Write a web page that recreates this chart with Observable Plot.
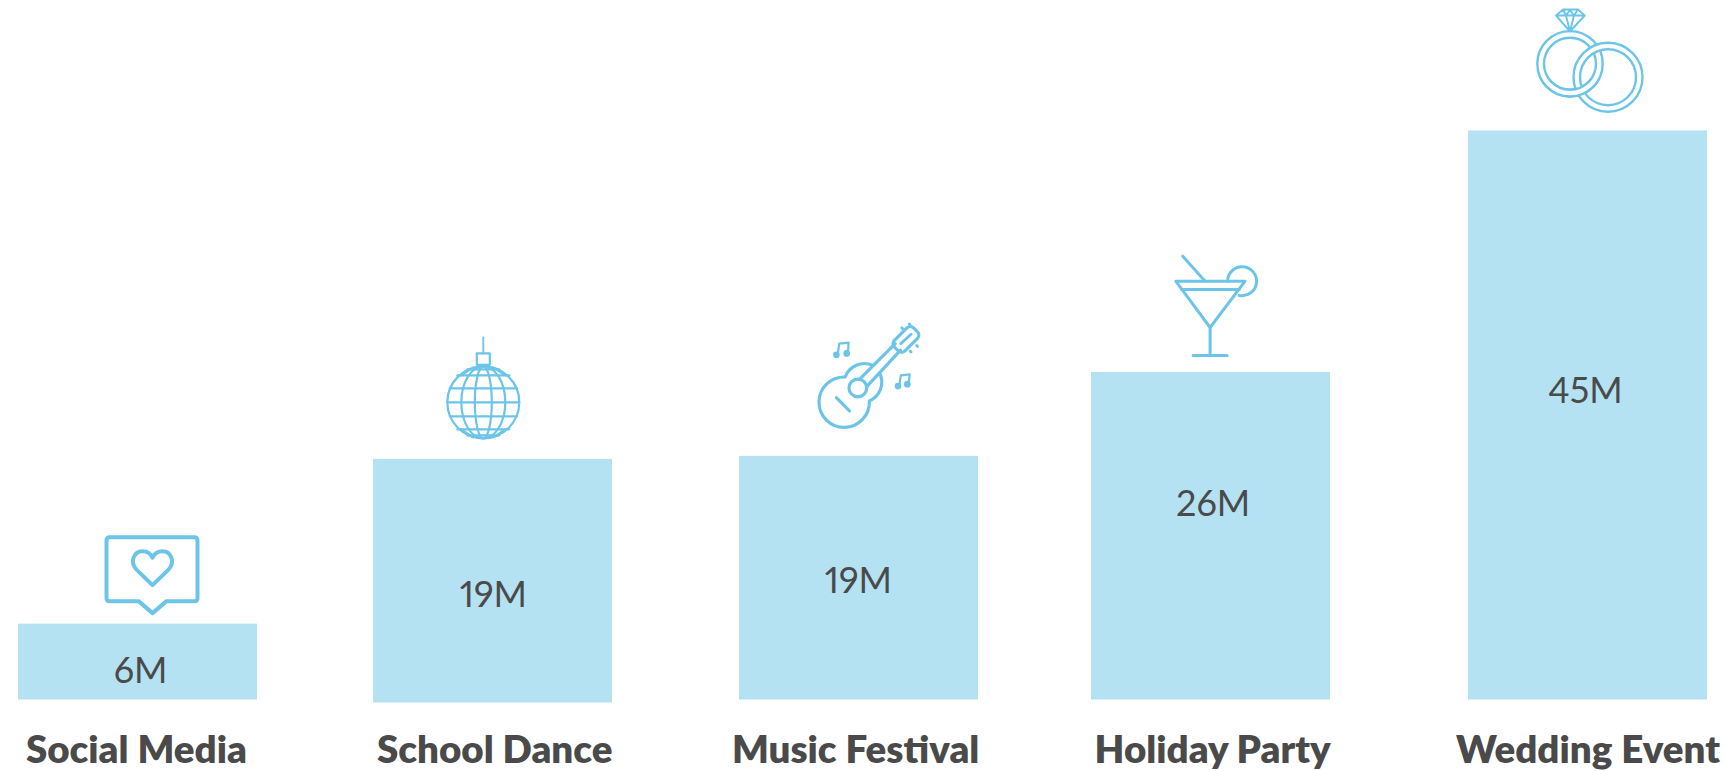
<!DOCTYPE html>
<html><head><meta charset="utf-8">
<style>html,body{margin:0;padding:0;background:#fff;overflow:hidden}svg{display:block}</style>
<script src="https://cdn.jsdelivr.net/npm/d3@7"></script>
<script src="https://cdn.jsdelivr.net/npm/@observablehq/plot@0.6"></script>
</head><body><div id="chart"></div>
<script>
// Data
const categories = ["Social Media", "School Dance", "Music Festival", "Holiday Party", "Wedding Event"];
const values = [6, 19.27, 19.27, 25.9, 45];
const valueLabels = ["6M", "19M", "19M", "26M", "45M"];

// Hand layout of the infographic (pixel nudges away from the even band positions)
const barDx = [-1, -8, -4, -14, 1];
const barDy = [0, 3, 0, 0, 0];
const valueDx = [1.6, -7.7, -4.7, -11.9, -1.5];
const valueDy = [47.6, 139.5, 125.5, 131.5, 260];
const nameDx = [-2.6, -6.3, -7.4, -12.4, 1];
const iconDx = [13.5, -17.7, 7, -8.9, 3];
const iconDy = [-49, -68, -81, -66.5, -70];
const iconSize = [120, 120, 112, 120, 120];

const blue = "#6cc5e8", barFill = "#b5e2f3", ink = "#4a4a4a";
const wrap = (body) => "data:image/svg+xml;utf8," + encodeURIComponent(
  `<svg xmlns="http://www.w3.org/2000/svg" viewBox="0 0 120 120" width="360" height="360" fill="none" stroke="${blue}" stroke-linecap="round" stroke-linejoin="round">${body}</svg>`);

const heartIcon = wrap(`<g stroke-width="4">
<path d="M17 22H102Q105 22 105 25.500V82.500Q105 86 102 86H74L60 98L46 86H17Q14 86 14 82.500V25.500Q14 22 17 22Z"/>
<path d="M60 70L44 54.500C36.500 46 42 36 50 36C55 36 58.500 39 60 42.500C61.500 39 65 36 70 36C78 36 83.500 46 76 54.500Z"/></g>`);

const discoIcon = wrap(`<g stroke-width="2.200">
<path d="M60 9V25" stroke-width="1.800"/><rect x="53.500" y="25" width="13" height="11.500"/>
<circle cx="60" cy="74" r="36"/>
<ellipse cx="60" cy="74" rx="8.500" ry="36"/><ellipse cx="60" cy="74" rx="22" ry="36"/>
<path d="M24 74H96M26.500 60H93.500M26.500 88H93.500M34 47H86M34 101H86M44 41H76M44 107H76"/>
<path d="M50 39L38 47M70 39L82 47M50 109L38 101M70 109L82 101"/></g>`);

const guitarIcon = wrap(`<g stroke-width="3.400">
<path d="M62.700 49.200A22 22 0 0 0 33.400 61.800A27 27 0 1 0 59.300 87.500A22 22 0 0 0 71 59"/>
<path d="M50 63L87 26M57 71.500L92.700 33"/>
<circle cx="47" cy="73.500" r="9.500"/>
<rect x="84" y="13.500" width="29" height="16" rx="5" transform="rotate(-45 98.500 21.500)"/>
<path d="M93 26L104 16" stroke-width="3"/>
<path d="M24 84L38 98"/>
<path d="M94 9L95 10M102 5L103 6M110 28L111 29M103 34L104 35" stroke-width="3"/>
<g stroke-width="2.400"><path d="M25.500 37L27 26L37 25L36.500 35"/><circle cx="24" cy="38" r="2.400" fill="${blue}"/><circle cx="35" cy="36.500" r="2.400" fill="${blue}"/>
<path d="M91.500 70L93 60L102.500 59L101.500 68"/><circle cx="90" cy="71.500" r="2.400" fill="${blue}"/><circle cx="100" cy="69.500" r="2.400" fill="${blue}"/></g></g>`);

const cocktailIcon = wrap(`<g stroke-width="3">
<path d="M19.700 35.200H89L54 81.500Z"/><path d="M25.500 43.500H83"/>
<path d="M54 81.500V109.500M37 109.500H71"/><path d="M26.700 10.200L49 35.200"/>
<path d="M71.500 35.200A14.500 14.500 0 1 1 83 49.400"/></g>`);

const ringsBase = (cx, cy, a, b) => `<circle cx="${cx}" cy="${cy}" r="${(a + b) / 2}" stroke="#fff" stroke-width="${a - b}"/><circle cx="${cx}" cy="${cy}" r="${a}"/><circle cx="${cx}" cy="${cy}" r="${b}"/>`;
const ringsIcon = wrap(`<defs><clipPath id="c"><rect x="0" y="78" width="74" height="42"/></clipPath></defs><g stroke-width="2.400">
${ringsBase(40, 62.800, 32.700, 26)}${ringsBase(78, 76.200, 34.500, 28)}
<g clip-path="url(#c)">${ringsBase(40, 62.800, 32.700, 26)}</g>
<path d="M33 8.500H48L54.700 14.500L40 30.500L26 14.500ZM26 14.500H54.700M33 8.500L36 14.500L40 9L44 14.500L48 8.500M36 14.500L40 30.500L44 14.500" stroke-width="1.900"/></g>`);
const icons = [heartIcon, discoIcon, guitarIcon, cocktailIcon, ringsIcon];

const rows = categories.map((category, i) => ({category, value: values[i], label: valueLabels[i], icon: icons[i], i}));
const font = "Lato, 'Open Sans', sans-serif";

const chart = Plot.plot({
  width: 1726, height: 771,
  marginLeft: 17.6, marginRight: 19, marginTop: 0, marginBottom: 71.5,
  style: {fontFamily: font, background: "#fff", overflow: "visible"},
  x: {domain: categories, type: "band", paddingInner: 0.34, paddingOuter: 0, axis: null},
  y: {domain: [0, 45], range: [699.5, 130.5], axis: null},
  marks: rows.flatMap((r) => [
    Plot.barY([r], {x: "category", y: "value", fill: barFill, dx: barDx[r.i], dy: barDy[r.i]}),
    Plot.text([r], {x: "category", y: "value", text: "label", dx: valueDx[r.i], dy: valueDy[r.i], fontSize: 36, fill: ink, fontWeight: 400, fontVariant: "proportional-nums", lineAnchor: "middle"}),
    Plot.text([r], {x: "category", y: () => 0, text: "category", dx: nameDx[r.i], dy: 51, fontSize: 38.5, fill: ink, fontWeight: 800, lineAnchor: "middle"}),
    Plot.image([r], {x: "category", y: "value", src: "icon", width: iconSize[r.i], height: iconSize[r.i], dx: iconDx[r.i], dy: iconDy[r.i]})
  ])
});
document.getElementById("chart").appendChild(chart);
</script></body></html>
